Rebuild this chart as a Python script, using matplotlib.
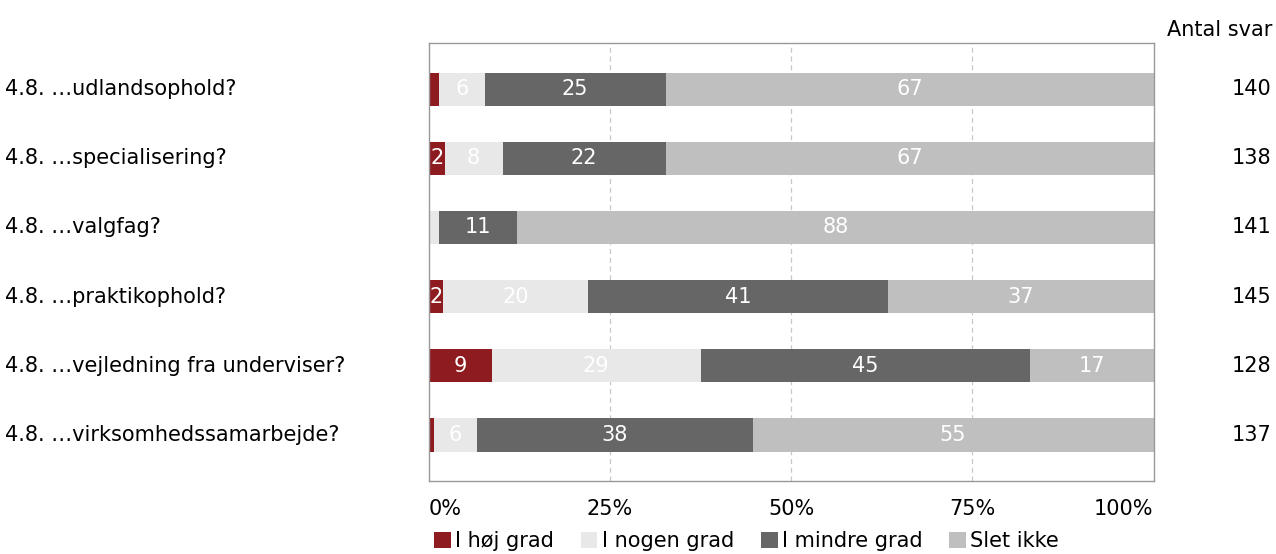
import numpy as np
import matplotlib.pyplot as plt
from matplotlib.patches import Patch

questions = ['4.8. …udlandsophold?', '4.8. …specialisering?', '4.8. …valgfag?',
             '4.8. …praktikophold?', '4.8. …vejledning fra underviser?',
             '4.8. …virksomhedssamarbejde?']
antal = [140, 138, 141, 145, 128, 137]
categories = ['I høj grad', 'I nogen grad', 'I mindre grad', 'Slet ikke']
hoj = [1.4, 2.2, 0.0, 2.0, 8.7, 0.7]
nogen = [6.3, 8.0, 1.4, 20.0, 28.8, 6.0]
mindre = [25.0, 22.5, 10.8, 41.4, 45.4, 38.0]
slet = [67.3, 67.3, 87.8, 36.6, 17.1, 55.3]
colors = ['#8e1b1f', '#e8e8e8', '#666666', '#bfbfbf']

plt.rcParams['font.family'] = 'sans-serif'
plt.rcParams['font.sans-serif'] = ['DejaVu Sans']
FS = 15
fig = plt.figure(figsize=(12.76, 5.54), dpi=100)
ax = fig.add_axes([0.336, 0.132, 0.568, 0.790])

y = np.arange(len(questions))
left = np.zeros(len(questions))
for vals, col in zip([hoj, nogen, mindre, slet], colors):
    vals = np.array(vals)
    ax.barh(y, vals, left=left, height=0.48, color=col, zorder=2)
    for yi, l, v in zip(y, left, vals):
        if v >= 1.5:
            ax.text(l + v / 2, yi, f'{round(v)}', ha='center', va='center',
                    color='white', fontsize=FS, family='DejaVu Sans', zorder=3)
    left += vals

ax.set_xlim(0, 100)
ax.set_ylim(5.664, -0.664)
ax.set_yticks([])
ax.set_xticks([0, 25, 50, 75, 100])
ax.set_xticklabels(['0%', '25%', '50%', '75%', '100%'], fontsize=FS,
                   family='DejaVu Sans')
ticklabels = ax.get_xticklabels()
ticklabels[0].set_ha('left')
ticklabels[-1].set_ha('right')
ax.tick_params(axis='x', length=0, pad=13)
for x in [25, 50, 75]:
    ax.axvline(x, color='#c8c8c8', linestyle=(0, (4, 3)), linewidth=0.9, zorder=1)
for s in ax.spines.values():
    s.set_color('#999999')
    s.set_linewidth(1.0)

for yi, q, n in zip(y, questions, antal):
    ax.text(-0.585, yi, q, transform=ax.get_yaxis_transform(), ha='left',
            va='center', fontsize=FS, family='DejaVu Sans')
    ax.text(1.163, yi, str(n), transform=ax.get_yaxis_transform(), ha='right',
            va='center', fontsize=FS, family='DejaVu Sans')
fig.text(0.997, 0.945, 'Antal svar', ha='right', va='center', fontsize=FS,
         family='DejaVu Sans')

handles = [Patch(facecolor=c, edgecolor='none') for c in colors]
fig.legend(handles, categories, loc='center', bbox_to_anchor=(0.585, 0.023),
           ncol=4, frameon=False, prop={'family': 'DejaVu Sans', 'size': FS},
           handlelength=0.8, handleheight=0.8, handletextpad=0.2,
           columnspacing=1.3)

fig.savefig('out.png', dpi=100)
